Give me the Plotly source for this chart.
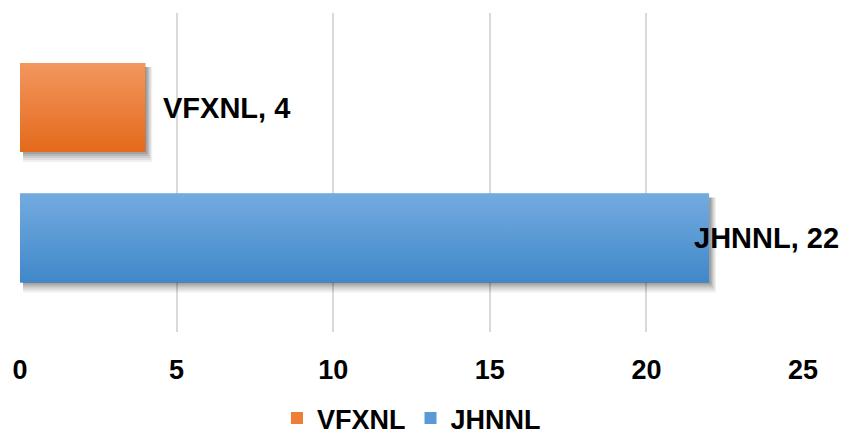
import plotly.graph_objects as go

# Chart data
series = ["VFXNL", "JHNNL"]
values = [4, 22]
x_ticks = [0, 5, 10, 15, 20, 25]

# Styling
top_colors = ["#F2975F", "#74ABDF"]
mid_colors = ["#EE7E35", "#5A9AD6"]
bottom_colors = ["#E4691B", "#3F88CA"]
slot = {"VFXNL": 1, "JHNNL": 0}
bar_half = 0.341

W, H = 844, 435
M = dict(l=20, r=41, t=13, b=103, autoexpand=False)
x_range = [0, 25]
y_range = [-0.72, 1.724]
px_x = (W - M["l"] - M["r"]) / (x_range[1] - x_range[0])
px_y = (H - M["t"] - M["b"]) / (y_range[1] - y_range[0])

fig = go.Figure()

# soft drop shadows under the bars (fall down and to the right)
for name, v in zip(series, values):
    yc = slot[name]
    for grow, alpha in [(10, 0.06), (8, 0.07), (6, 0.08), (4, 0.10), (2, 0.12)]:
        x0 = 3 / px_x
        x1 = v + (1 + 0.6 * grow) / px_x
        y0 = yc - bar_half - grow / px_y
        y1 = yc + bar_half - 4 / px_y
        fig.add_trace(go.Scatter(
            x=[x0, x1, x1, x0, x0], y=[y0, y0, y1, y1, y0],
            mode="lines", line=dict(width=0), fill="toself",
            fillcolor=f"rgba(0,0,0,{alpha})",
            hoverinfo="skip", showlegend=False))

# bars (solid base, used for the legend)
for name, v, c in zip(series, values, mid_colors):
    fig.add_trace(go.Bar(
        x=[v], y=[slot[name]], orientation="h", name=f"<b>{name}</b>",
        width=2 * bar_half, marker=dict(color=c, line=dict(width=0)),
        hoverinfo="skip"))

# vertical gradient overlay on each bar
for name, v, ct, cb in zip(series, values, top_colors, bottom_colors):
    yc = slot[name]
    y0, y1 = yc - bar_half, yc + bar_half
    fig.add_trace(go.Scatter(
        x=[0, v, v, 0, 0], y=[y0, y0, y1, y1, y0],
        mode="lines", line=dict(width=0), fill="toself",
        fillgradient=dict(type="vertical", colorscale=[[0, cb], [1, ct]]),
        hoverinfo="skip", showlegend=False))

# data labels
for name, v in zip(series, values):
    inside = v > 20
    fig.add_annotation(
        x=v, y=slot[name], text=f"<b>{name}, {v}</b>", showarrow=False,
        xanchor="left", yanchor="middle",
        xshift=-17 if inside else 16,
        font=dict(family="Liberation Sans, Arial", size=29, color="#000000"))

fig.update_layout(
    width=W, height=H, margin=M,
    paper_bgcolor="white", plot_bgcolor="white",
    barmode="overlay",
    showlegend=True,
    legend=dict(orientation="h", x=0.5, xanchor="center",
                yref="container", y=0.038, yanchor="middle",
                font=dict(family="Liberation Sans, Arial", size=27, color="#000000"),
                itemwidth=30, tracegroupgap=0),
    xaxis=dict(range=x_range, tickvals=x_ticks, ticktext=[f"<b>{t}</b>" for t in x_ticks],
               showgrid=True, gridcolor="#D9D9D9", gridwidth=2, automargin=False,
               zeroline=False, showline=False, ticks="", ticklabelstandoff=19,
               tickfont=dict(family="Liberation Sans, Arial", size=27, color="#000000")),
    yaxis=dict(range=y_range, visible=False, showgrid=False, zeroline=False),
)

fig.write_html("out.html")
